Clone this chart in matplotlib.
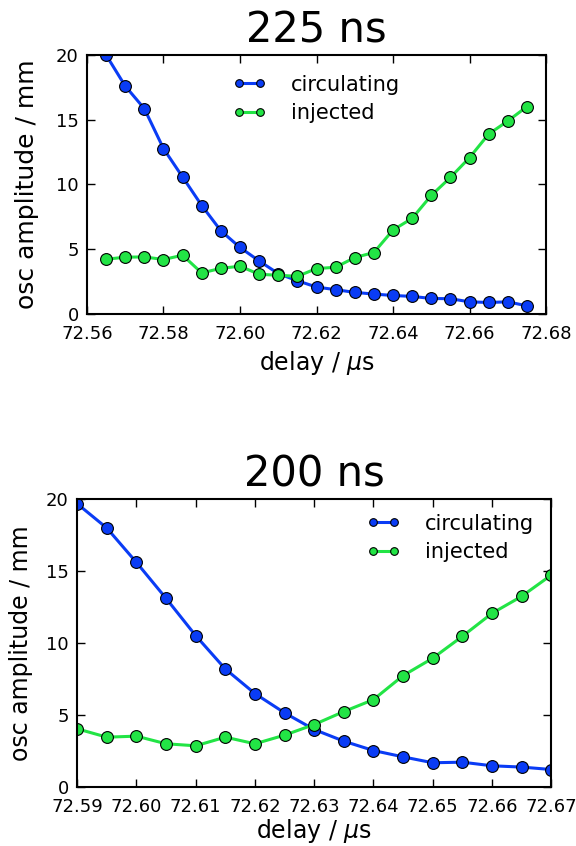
import numpy as np
import matplotlib
matplotlib.use("Agg")
import matplotlib.pyplot as plt  # noqa: E402

# 225 ns scan
delay_225 = [72.565, 72.570, 72.575, 72.580, 72.585, 72.590, 72.595, 72.600,
             72.605, 72.610, 72.615, 72.620, 72.625, 72.630, 72.635, 72.640,
             72.645, 72.650, 72.655, 72.660, 72.665, 72.670, 72.675]
circ_225 = [20.0, 17.6, 15.85, 12.77, 10.57, 8.37, 6.42, 5.13, 4.09, 3.11, 2.56,
            2.07, 1.87, 1.66, 1.53, 1.42, 1.35, 1.19, 1.17, 0.93, 0.88, 0.93, 0.62]
inj_225 = [4.22, 4.38, 4.40, 4.20, 4.53, 3.16, 3.52, 3.68, 3.06, 2.98, 2.90,
           3.50, 3.60, 4.35, 4.74, 6.48, 7.38, 9.15, 10.54, 12.07, 13.89, 14.90, 16.01]

# 200 ns scan
delay_200 = [72.590, 72.595, 72.600, 72.605, 72.610, 72.615, 72.620, 72.625,
             72.630, 72.635, 72.640, 72.645, 72.650, 72.655, 72.660, 72.665, 72.670]
circ_200 = [19.68, 17.99, 15.6, 13.1, 10.51, 8.19, 6.48, 5.14, 3.98, 3.17,
            2.52, 2.08, 1.67, 1.71, 1.46, 1.37, 1.20]
inj_200 = [4.03, 3.45, 3.52, 2.99, 2.85, 3.45, 2.99, 3.59, 4.33, 5.23,
           6.06, 7.73, 8.94, 10.46, 12.06, 13.24, 14.72]

xticks_225 = [72.56, 72.58, 72.60, 72.62, 72.64, 72.66, 72.68]
xticks_200 = [72.59, 72.60, 72.61, 72.62, 72.63, 72.64, 72.65, 72.66, 72.67]
yticks = [0, 5, 10, 15, 20]

BLUE = "#0a3cf5"
GREEN = "#22e445"


def panel(ax, x, circ, inj, xticks, xlim, title, legend_loc, legend_anchor,
          ylab_size, ylab_pad, xlab_pad):
    kw = dict(lw=2.2, marker="o", ms=8.5, mec="black", mew=0.8)
    ax.plot(x, circ, color=BLUE, mfc=BLUE, label="circulating", **kw)
    ax.plot(x, inj, color=GREEN, mfc=GREEN, label="injected", **kw)
    ax.set_xlim(*xlim)
    ax.set_ylim(0, 20)
    ax.set_xticks(xticks)
    ax.set_xticklabels([f"{t:.2f}" for t in xticks])
    ax.set_yticks(yticks)
    ax.tick_params(direction="in", top=True, right=True, length=6, width=1,
                   labelsize=13)
    ax.tick_params(axis="x", pad=8)
    ax.tick_params(axis="y", pad=6)
    for s in ax.spines.values():
        s.set_linewidth(1.5)
    ax.set_xlabel(r"delay / $\mu$s", fontsize=17, labelpad=xlab_pad)
    ax.set_ylabel("osc amplitude / mm", fontsize=ylab_size, labelpad=ylab_pad)
    ax.set_title(title, fontsize=30, pad=9)
    ax.legend(loc=legend_loc, bbox_to_anchor=legend_anchor, frameon=False,
              numpoints=2, markerscale=0.65, fontsize=15, handlelength=1.6,
              handletextpad=1.2, labelspacing=0.4, borderaxespad=0.3)


fig = plt.figure(figsize=(5.76, 8.46), dpi=100, facecolor="white")
ax0 = fig.add_axes([0.151, 0.629, 0.797, 0.306])
ax1 = fig.add_axes([0.134, 0.070, 0.823, 0.340])

panel(ax0, delay_225, circ_225, inj_225, xticks_225, (72.56, 72.68),
      "225 ns", "upper center", (0.5, 0.98), 18, 12, 4)
panel(ax1, delay_200, circ_200, inj_200, xticks_200, (72.59, 72.67),
      "200 ns", "upper right", (0.995, 1.0), 17, 9, 1)

fig.savefig("out.png", dpi=100)
plt.close(fig)
